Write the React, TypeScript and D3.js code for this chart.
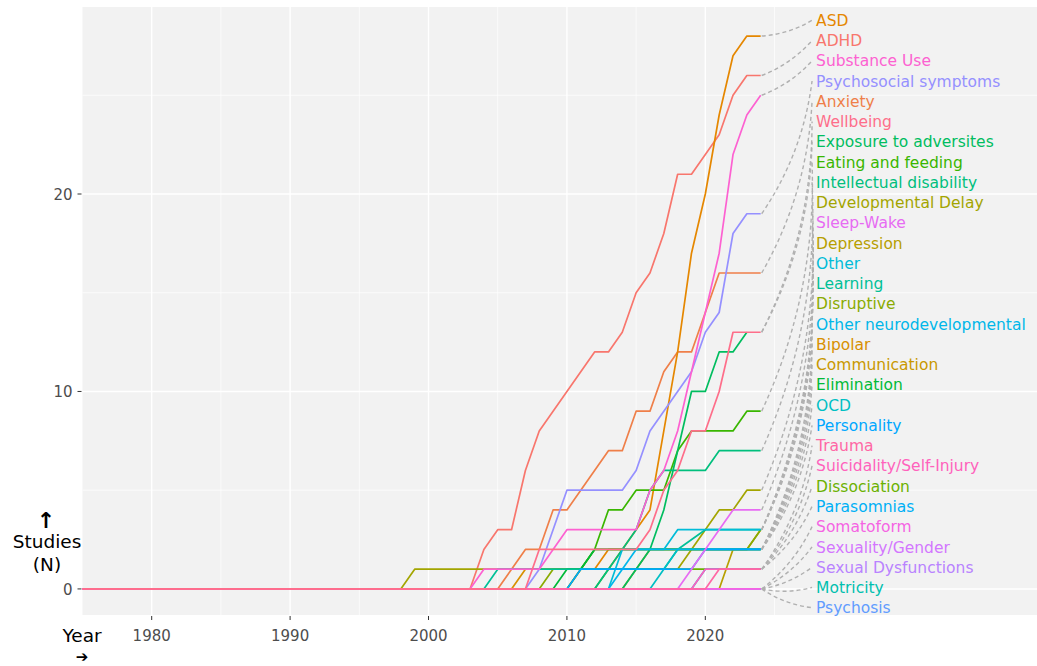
import React from "react";
import * as d3 from "d3";

// categories in the order ggplot assigns its hue palette (alphabetical)
const categories = [
  "ADHD", "Anxiety", "ASD", "Bipolar", "Communication", "Depression",
  "Developmental Delay", "Disruptive", "Dissociation", "Eating and feeding",
  "Elimination", "Exposure to adversites", "Intellectual disability", "Learning",
  "Motricity", "OCD", "Other", "Other neurodevelopmental", "Parasomnias",
  "Personality", "Psychosis", "Psychosocial symptoms", "Sexual Dysfunctions",
  "Sexuality/Gender", "Sleep-Wake", "Somatoform", "Substance Use",
  "Suicidality/Self-Injury", "Trauma", "Wellbeing",
];

// label order on the right, top to bottom
const labelOrder = [
  "ASD", "ADHD", "Substance Use", "Psychosocial symptoms", "Anxiety", "Wellbeing",
  "Exposure to adversites", "Eating and feeding", "Intellectual disability",
  "Developmental Delay", "Sleep-Wake", "Depression", "Other", "Learning",
  "Disruptive", "Other neurodevelopmental", "Bipolar", "Communication",
  "Elimination", "OCD", "Personality", "Trauma", "Suicidality/Self-Injury",
  "Dissociation", "Parasomnias", "Somatoform", "Sexuality/Gender",
  "Sexual Dysfunctions", "Motricity", "Psychosis",
];

// cumulative number of studies: [year, N] at each bend of the line
const adhd = [[1975, 0], [2003, 0], [2004, 2], [2005, 3], [2006, 3], [2007, 6], [2008, 8], [2009, 9], [2010, 10], [2011, 11], [2012, 12], [2013, 12], [2014, 13], [2015, 15], [2016, 16], [2017, 18], [2018, 21], [2019, 21], [2020, 22], [2021, 23], [2022, 25], [2023, 26], [2024, 26]];
const asd = [[1975, 0], [2010, 0], [2011, 1], [2012, 1], [2013, 2], [2014, 2], [2015, 3], [2016, 4], [2017, 8], [2018, 12], [2019, 17], [2020, 20], [2021, 24], [2022, 27], [2023, 28], [2024, 28]];
const anxiety = [[1975, 0], [2005, 0], [2006, 1], [2007, 2], [2008, 2], [2009, 4], [2010, 4], [2011, 5], [2012, 6], [2013, 7], [2014, 7], [2015, 9], [2016, 9], [2017, 11], [2018, 12], [2019, 12], [2020, 14], [2021, 16], [2024, 16]];
const bipolar = [[1975, 0], [2006, 0], [2007, 1], [2013, 1], [2014, 2], [2024, 2]];
const communication = [[1975, 0], [2014, 0], [2015, 1], [2016, 2], [2024, 2]];
const depression = [[1975, 0], [2021, 0], [2022, 2], [2023, 2], [2024, 3]];
const devDelay = [[1975, 0], [1998, 0], [1999, 1], [2018, 1], [2019, 2], [2020, 3], [2021, 4], [2022, 4], [2023, 5], [2024, 5]];
const disruptive = [[1975, 0], [2008, 0], [2009, 1], [2011, 1], [2012, 2], [2023, 2], [2024, 3]];
const dissociation = [[1975, 0], [2012, 0], [2013, 1], [2024, 1]];
const eating = [[1975, 0], [2010, 0], [2011, 1], [2012, 2], [2013, 4], [2014, 4], [2015, 5], [2017, 5], [2018, 7], [2019, 8], [2022, 8], [2023, 9], [2024, 9]];
const elimination = [[1975, 0], [2009, 0], [2010, 1], [2011, 1], [2012, 2], [2024, 2]];
const exposure = [[1975, 0], [2014, 0], [2015, 1], [2016, 2], [2017, 4], [2018, 7], [2019, 10], [2020, 10], [2021, 12], [2022, 12], [2023, 13]];
const intellectual = [[1975, 0], [2012, 0], [2013, 1], [2014, 2], [2015, 3], [2016, 5], [2017, 6], [2020, 6], [2021, 7], [2024, 7]];
const learning = [[1975, 0], [2004, 0], [2005, 1], [2017, 1], [2018, 2], [2020, 3], [2024, 3]];
const motricity = [[1975, 0], [2024, 0]];
const ocd = [[1975, 0], [2016, 0], [2017, 1], [2018, 2], [2024, 2]];
const other = [[1975, 0], [2013, 0], [2014, 2], [2017, 2], [2018, 3], [2024, 3]];
const otherNeuro = [[1975, 0], [2013, 0], [2014, 1], [2015, 2], [2024, 2]];
const parasomnias = [[1975, 0], [2019, 0], [2020, 1], [2024, 1]];
const personality = [[1975, 0], [2010, 0], [2011, 1], [2019, 1], [2020, 2], [2024, 2]];
const psychosis = [[1975, 0], [2024, 0]];
const psychosocial = [[1975, 0], [2007, 0], [2008, 1], [2009, 3], [2010, 5], [2014, 5], [2015, 6], [2016, 8], [2017, 9], [2018, 10], [2019, 11], [2020, 13], [2021, 14], [2022, 18], [2023, 19], [2024, 19]];
const sexualDys = [[1975, 0], [2024, 0]];
const sexuality = [[1975, 0], [2024, 0]];
const sleepWake = [[1975, 0], [2018, 0], [2019, 1], [2020, 2], [2021, 3], [2022, 4], [2024, 4]];
const somatoform = [[1975, 0], [2024, 0]];
const substance = [[1975, 0], [2003, 0], [2004, 1], [2008, 1], [2009, 2], [2010, 3], [2015, 3], [2016, 5], [2017, 6], [2018, 8], [2019, 11], [2020, 14], [2021, 17], [2022, 22], [2023, 24], [2024, 25]];
const suicidality = [[1975, 0], [2019, 0], [2020, 1], [2024, 1]];
const trauma = [[1975, 0], [2020, 0], [2021, 1], [2024, 1]];
const wellbeing = [[1975, 0], [2007, 0], [2008, 2], [2015, 2], [2016, 3], [2017, 5], [2018, 6], [2019, 8], [2020, 8], [2021, 10], [2022, 13], [2024, 13]];

const seriesData: Record<string, number[][]> = {
  "ADHD": adhd, "Anxiety": anxiety, "ASD": asd, "Bipolar": bipolar,
  "Communication": communication, "Depression": depression,
  "Developmental Delay": devDelay, "Disruptive": disruptive,
  "Dissociation": dissociation, "Eating and feeding": eating,
  "Elimination": elimination, "Exposure to adversites": exposure,
  "Intellectual disability": intellectual, "Learning": learning,
  "Motricity": motricity, "OCD": ocd, "Other": other,
  "Other neurodevelopmental": otherNeuro, "Parasomnias": parasomnias,
  "Personality": personality, "Psychosis": psychosis,
  "Psychosocial symptoms": psychosocial, "Sexual Dysfunctions": sexualDys,
  "Sexuality/Gender": sexuality, "Sleep-Wake": sleepWake,
  "Somatoform": somatoform, "Substance Use": substance,
  "Suicidality/Self-Injury": suicidality, "Trauma": trauma, "Wellbeing": wellbeing,
};

const xTicks = [1980, 1990, 2000, 2010, 2020];
const xMinor = [1985, 1995, 2005, 2015, 2025];
const yTicks = [0, 10, 20];
const yMinor = [5, 15, 25];

// R's hcl() (polar LUV) -> hex, used by ggplot's default hue palette
function hclLuv(h: number, c: number, l: number) {
  const hr = (h * Math.PI) / 180;
  const U = c * Math.cos(hr), V = c * Math.sin(hr);
  const Xn = 95.047, Yn = 100, Zn = 108.883;
  const den = Xn + 15 * Yn + 3 * Zn;
  const un = (4 * Xn) / den, vn = (9 * Yn) / den;
  const Y = Yn * Math.pow((l + 16) / 116, 3);
  const u = U / (13 * l) + un, v = V / (13 * l) + vn;
  const X = (9 * Y * u) / (4 * v);
  const Z = -X / 3 - 5 * Y + (3 * Y) / v;
  const x = X / 100, y = Y / 100, z = Z / 100;
  const lin = [
    3.240479 * x - 1.53715 * y - 0.498535 * z,
    -0.969256 * x + 1.875992 * y + 0.041556 * z,
    0.055648 * x - 0.204043 * y + 1.057311 * z,
  ];
  const g = lin.map((t) => {
    const s = t <= 0.0031308 ? 12.92 * t : 1.055 * Math.pow(t, 1 / 2.4) - 0.055;
    return Math.round(Math.max(0, Math.min(1, s)) * 255);
  });
  return d3.rgb(g[0], g[1], g[2]).formatHex();
}

const App: React.FC = () => {
  const width = 1037;
  const height = 666;
  const panel = { left: 82.5, top: 7, bottom: 615 };

  const x = d3.scaleLinear().domain([1975, 2044]).range([panel.left, 1037.5]);
  const y = d3.scaleLinear().domain([-1.32, 29.47]).range([panel.bottom, panel.top]);

  const color = d3
    .scaleOrdinal<string, string>()
    .domain(categories)
    .range(categories.map((_, i) => hclLuv((15 + (360 / categories.length) * i) % 360, 100, 65)));

  const line = d3
    .line<number[]>()
    .x((d) => x(d[0]))
    .y((d) => y(d[1]));

  // label slots, evenly spread like the repelled labels
  const labelY = d3.scalePoint<string>().domain(labelOrder).range([y(28.8), y(-0.95)]);
  const labelX = x(2028);

  const connector = (name: string) => {
    const pts = seriesData[name];
    const last = pts[pts.length - 1];
    const x0 = x(2024) + 1;
    const y0 = y(last[1]);
    const x1 = labelX - 4;
    const y1 = labelY(name) as number;
    const dx = x1 - x0, dy = y1 - y0;
    const k = 0.12;
    const cx = (x0 + x1) / 2 - k * dy;
    const cy = (y0 + y1) / 2 + k * dx;
    return `M${x0},${y0}Q${cx},${cy} ${x1},${y1}`;
  };

  const font = "'DejaVu Sans', 'Liberation Sans', Arial, sans-serif";

  return (
    <svg
      width={width}
      height={height}
      style={{ position: "absolute", left: 0, top: 0, fontFamily: font }}
    >
      <rect x={0} y={0} width={width} height={height} fill="#ffffff" />
      <rect
        x={panel.left}
        y={panel.top}
        width={width - panel.left}
        height={panel.bottom - panel.top}
        fill="#f2f2f2"
      />

      {/* grid */}
      {yMinor.map((t) => (
        <line key={"ym" + t} x1={panel.left} x2={width} y1={y(t)} y2={y(t)} stroke="#fff" strokeWidth={0.7} />
      ))}
      {xMinor.map((t) => (
        <line key={"xm" + t} x1={x(t)} x2={x(t)} y1={panel.top} y2={panel.bottom} stroke="#fff" strokeWidth={0.7} />
      ))}
      {yTicks.map((t) => (
        <line key={"y" + t} x1={panel.left} x2={width} y1={y(t)} y2={y(t)} stroke="#fff" strokeWidth={1.4} />
      ))}
      {xTicks.map((t) => (
        <line key={"x" + t} x1={x(t)} x2={x(t)} y1={panel.top} y2={panel.bottom} stroke="#fff" strokeWidth={1.4} />
      ))}

      {/* series lines */}
      {categories.map((c) => (
        <path key={c} d={line(seriesData[c]) || ""} fill="none" stroke={color(c)} strokeWidth={1.7} strokeLinejoin="round" />
      ))}

      {/* connectors */}
      {labelOrder.map((c) => (
        <path key={"s" + c} d={connector(c)} fill="none" stroke="#b0b0b0" strokeWidth={1.4} strokeDasharray="4,3" />
      ))}

      {/* labels */}
      {labelOrder.map((c) => (
        <text key={"l" + c} x={labelX} y={labelY(c)} dy="0.36em" fontSize={15.5} fill={color(c)}>
          {c}
        </text>
      ))}

      {/* axes */}
      {xTicks.map((t) => (
        <g key={"xt" + t}>
          <line x1={x(t)} x2={x(t)} y1={panel.bottom + 1} y2={panel.bottom + 5} stroke="#333" strokeWidth={1} />
          <text x={x(t)} y={641} textAnchor="middle" fontSize={15} fill="#4d4d4d">
            {t}
          </text>
        </g>
      ))}
      {yTicks.map((t) => (
        <g key={"yt" + t}>
          <line x1={panel.left - 5} x2={panel.left - 1} y1={y(t)} y2={y(t)} stroke="#333" strokeWidth={1} />
          <text x={panel.left - 10} y={y(t)} dy="0.38em" textAnchor="end" fontSize={15} fill="#4d4d4d">
            {t}
          </text>
        </g>
      ))}

      {/* axis titles */}
      <text x={46} y={528} textAnchor="middle" fontSize={22} fontWeight="bold" fill="#000">↑</text>
      <text x={47} y={548} textAnchor="middle" fontSize={18.5} fill="#000">Studies</text>
      <text x={47} y={571} textAnchor="middle" fontSize={18.5} fill="#000">(N)</text>
      <text x={82} y={642} textAnchor="middle" fontSize={18.5} fill="#000">Year</text>
      <text x={82} y={662} textAnchor="middle" fontSize={15} fontWeight="bold" fill="#000">➔</text>
    </svg>
  );
};

export default App;
